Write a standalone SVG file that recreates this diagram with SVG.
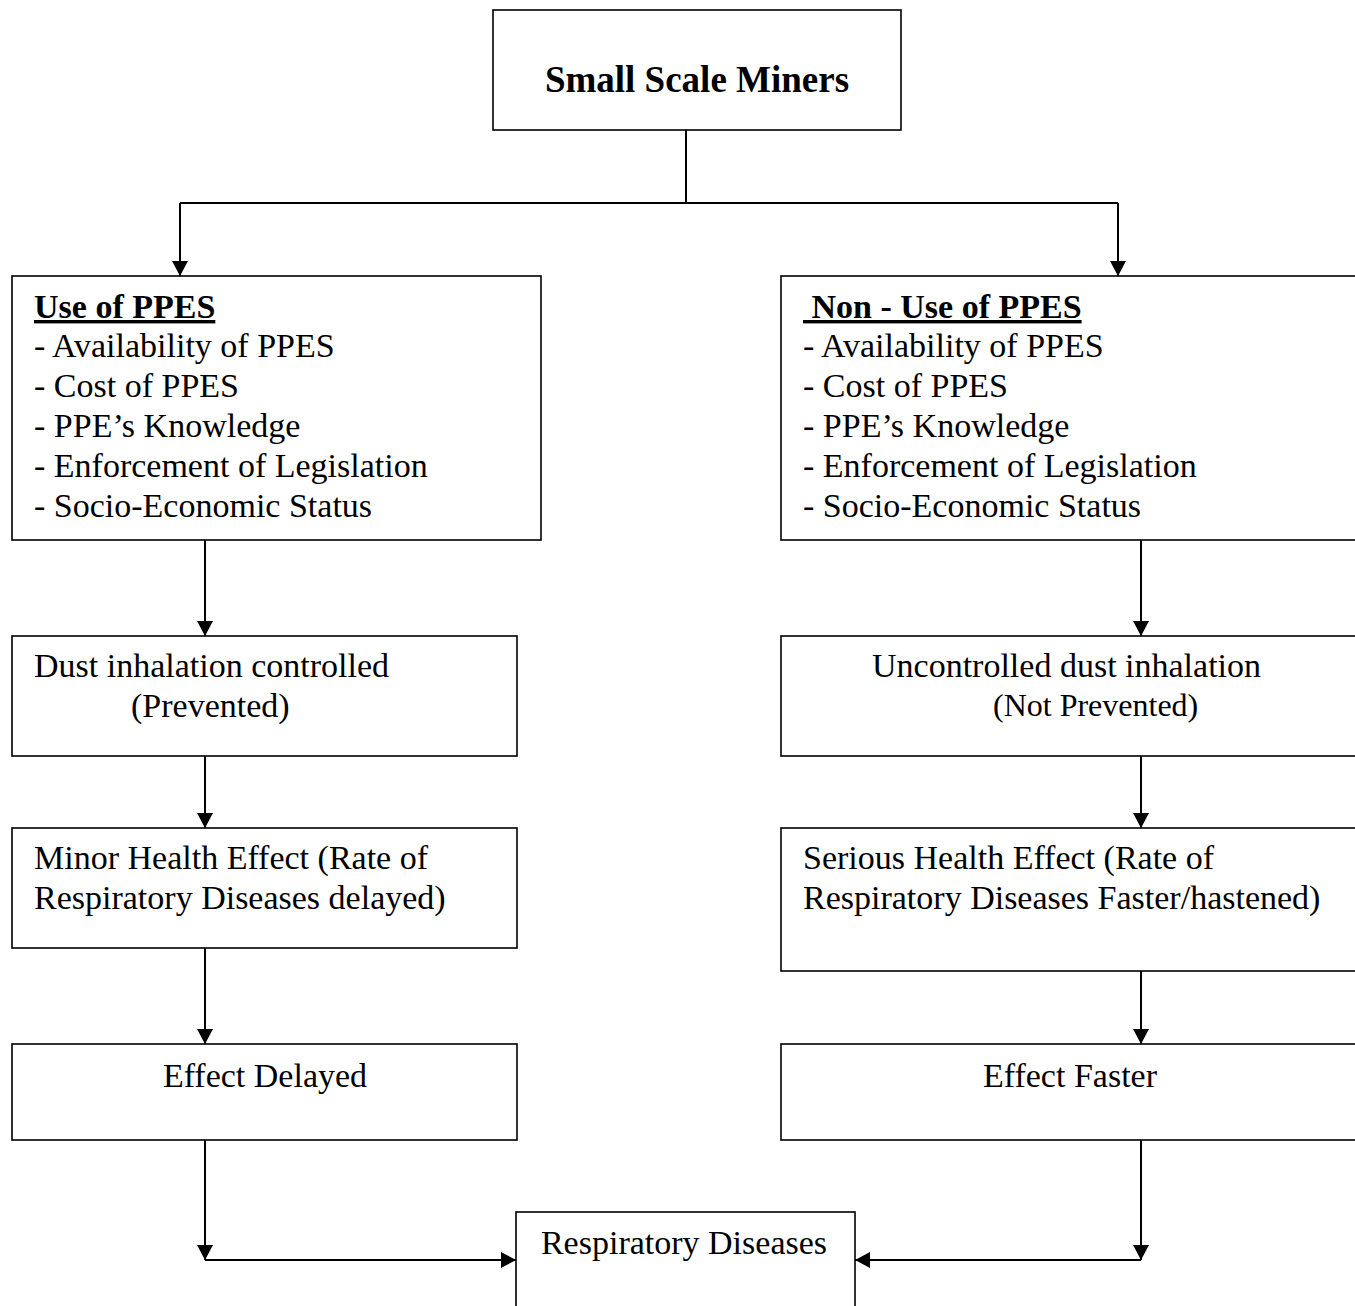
<svg xmlns="http://www.w3.org/2000/svg" width="1355" height="1306" viewBox="0 0 1355 1306">
<style>
.box{fill:#fff;stroke:#000;stroke-width:1.6}
.t{font-family:"Liberation Serif","Times New Roman",serif;font-size:34px;fill:#000}
.b{font-weight:bold}
.u{text-decoration:underline}
.c{fill:none;stroke:#000;stroke-width:2}
</style>
<defs>
<marker id="ah" markerUnits="userSpaceOnUse" viewBox="0 0 15 16" refX="15" refY="8" markerWidth="15" markerHeight="16" orient="auto">
<path d="M0,0 L15,8 L0,16 z" fill="#000"/>
</marker>
</defs>
<rect width="1355" height="1306" fill="#fff"/>
<g id="connectors">
<path class="c" d="M686,130 V203 M180,203 H1118"/>
<path class="c" d="M180,203 V276" marker-end="url(#ah)"/>
<path class="c" d="M1118,203 V276" marker-end="url(#ah)"/>
<path class="c" d="M205,540 V636" marker-end="url(#ah)"/>
<path class="c" d="M1141,540 V636" marker-end="url(#ah)"/>
<path class="c" d="M205,756 V828" marker-end="url(#ah)"/>
<path class="c" d="M1141,756 V828" marker-end="url(#ah)"/>
<path class="c" d="M205,948 V1044" marker-end="url(#ah)"/>
<path class="c" d="M1141,971 V1044" marker-end="url(#ah)"/>
<path class="c" d="M205,1140 V1260" marker-end="url(#ah)"/>
<path class="c" d="M1141,1140 V1260" marker-end="url(#ah)"/>
<path class="c" d="M205,1260 H516" marker-end="url(#ah)"/>
<path class="c" d="M1141,1260 H855" marker-end="url(#ah)"/>
</g>
<g id="n-miners">
<rect class="box" x="493" y="10" width="408" height="120"/>
<text class="t b" x="697" y="92" text-anchor="middle" style="font-size:37px">Small Scale Miners</text>
</g>
<g id="n-use">
<rect class="box" x="12" y="276" width="529" height="264"/>
<text class="t b u" x="34" y="318">Use of PPES</text>
<text class="t" x="34" y="357">- Availability of PPES</text>
<text class="t" x="34" y="397">- Cost of PPES</text>
<text class="t" x="34" y="437">- PPE’s Knowledge</text>
<text class="t" x="34" y="477">- Enforcement of Legislation</text>
<text class="t" x="34" y="517">- Socio-Economic Status</text>
</g>
<g id="n-nonuse">
<rect class="box" x="781" y="276" width="590" height="264"/>
<text class="t b u" x="803" y="318" xml:space="preserve"> Non - Use of PPES</text>
<text class="t" x="803" y="357">- Availability of PPES</text>
<text class="t" x="803" y="397">- Cost of PPES</text>
<text class="t" x="803" y="437">- PPE’s Knowledge</text>
<text class="t" x="803" y="477">- Enforcement of Legislation</text>
<text class="t" x="803" y="517">- Socio-Economic Status</text>
</g>
<g id="n-controlled">
<rect class="box" x="12" y="636" width="505" height="120"/>
<text class="t" x="34" y="677">Dust inhalation controlled</text>
<text class="t" x="131" y="717">(Prevented)</text>
</g>
<g id="n-uncontrolled">
<rect class="box" x="781" y="636" width="590" height="120"/>
<text class="t" x="872" y="677">Uncontrolled dust inhalation</text>
<text class="t" x="993" y="716" style="font-size:32px">(Not Prevented)</text>
</g>
<g id="n-minor">
<rect class="box" x="12" y="828" width="505" height="120"/>
<text class="t" x="34" y="869">Minor Health Effect (Rate of</text>
<text class="t" x="34" y="909">Respiratory Diseases delayed)</text>
</g>
<g id="n-serious">
<rect class="box" x="781" y="828" width="590" height="143"/>
<text class="t" x="803" y="869">Serious Health Effect (Rate of</text>
<text class="t" x="803" y="909">Respiratory Diseases Faster/hastened)</text>
</g>
<g id="n-delayed">
<rect class="box" x="12" y="1044" width="505" height="96"/>
<text class="t" x="265" y="1087" text-anchor="middle">Effect Delayed</text>
</g>
<g id="n-faster">
<rect class="box" x="781" y="1044" width="590" height="96"/>
<text class="t" x="1070" y="1087" text-anchor="middle">Effect Faster</text>
</g>
<g id="n-resp">
<rect class="box" x="516" y="1212" width="339" height="110"/>
<text class="t" x="684" y="1254" text-anchor="middle">Respiratory Diseases</text>
</g>
</svg>
